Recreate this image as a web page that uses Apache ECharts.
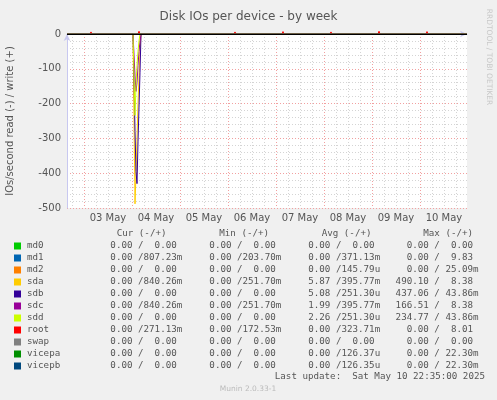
<!DOCTYPE html>
<html>
<head>
<meta charset="utf-8">
<script src="https://cdn.jsdelivr.net/npm/echarts@6/dist/echarts.min.js"></script>
<style>
  html, body { margin: 0; padding: 0; background: #f0f0f0; }
  #main { width: 497px; height: 400px; }
</style>
</head>
<body>
<div id="main"></div>
<script>
// devices, in munin draw order
const names = ['md0', 'md1', 'md2', 'sda', 'sdb', 'sdc', 'sdd', 'root', 'swap', 'vicepa', 'vicepb'];
const colors = ['#00CC00', '#0066B3', '#FF8000', '#FFCC00', '#330099', '#990099', '#CCFF00', '#FF0000', '#808080', '#008F00', '#00487D'];

// read spike on the night of 04 May (30 min steps)
const spikeTimes = ['04 May 00:30', '04 May 01:00', '04 May 01:30', '04 May 02:00', '04 May 02:30',
                    '04 May 03:00', '04 May 03:30', '04 May 04:00', '04 May 04:30'];
const sdaRead = [0, -240, -488, -400, -300, -200, -120, -50, 0];
const sdbRead = [0, -130, -280, -395, -430, -310, -210, -110, 0];
const sdcRead = [0, -60, -120, -165, -140, -90, -50, -20, 0];
const sddRead = [0, -120, -234, -150, -90, -50, -20, 0, 0];

// small nightly writes on root
const rootTimes = ['03 May 03:30', '04 May 03:30', '05 May 03:30', '06 May 03:30',
                   '07 May 03:30', '08 May 03:30', '09 May 03:30', '10 May 03:30'];
const rootWrite = [6, 8, 5, 6, 7, 6, 8, 7];

// legend table: [read, write]
const curCol = [['0.00','0.00'],['0.00','807.23m'],['0.00','0.00'],['0.00','840.26m'],['0.00','0.00'],['0.00','840.26m'],
                ['0.00','0.00'],['0.00','271.13m'],['0.00','0.00'],['0.00','0.00'],['0.00','0.00']];
const minCol = [['0.00','0.00'],['0.00','203.70m'],['0.00','0.00'],['0.00','251.70m'],['0.00','0.00'],['0.00','251.70m'],
                ['0.00','0.00'],['0.00','172.53m'],['0.00','0.00'],['0.00','0.00'],['0.00','0.00']];
const avgCol = [['0.00','0.00'],['0.00','371.13m'],['0.00','145.79u'],['5.87','395.77m'],['5.08','251.30u'],['1.99','395.77m'],
                ['2.26','251.30u'],['0.00','323.71m'],['0.00','0.00'],['0.00','126.37u'],['0.00','126.35u']];
const maxCol = [['0.00','0.00'],['0.00','9.83'],['0.00','25.09m'],['490.10','8.38'],['437.06','43.86m'],['166.51','8.38'],
                ['234.77','43.86m'],['0.00','8.01'],['0.00','0.00'],['0.00','22.30m'],['0.00','22.30m']];
const headers = ['Cur (-/+)', 'Min (-/+)', 'Avg (-/+)', 'Max (-/+)'];

// 30 minute slots from 02 May 15:30 to 10 May 23:30
function two(n) { return (n < 10 ? '0' : '') + n; }
const slots = [];
const t0 = Date.UTC(2025, 4, 2, 15, 30);
for (let i = 0; i <= 400; i++) {
  const d = new Date(t0 + i * 1800000);
  slots.push(two(d.getUTCDate()) + ' May ' + two(d.getUTCHours()) + ':' + two(d.getUTCMinutes()));
}
const first = slots[0], last = slots[slots.length - 1];

function spike(vals) {
  return [[first, 0]].concat(spikeTimes.map((t, i) => [t, vals[i]]), [[last, 0]]);
}
function rootData() {
  let out = [[first, 0]];
  rootTimes.forEach((t, i) => {
    const k = slots.indexOf(t);
    out.push([slots[k - 1], 0], [t, rootWrite[i]], [slots[k + 1], 0]);
  });
  out.push([last, 0]);
  return out;
}
const flat = [[first, 0], [last, 0]];
const seriesData = {
  sda: spike(sdaRead), sdb: spike(sdbRead), sdc: spike(sdcRead), sdd: spike(sddRead), root: rootData()
};

const isMidnight = (idx) => slots[idx].endsWith('00:00');
const isNoon = (idx) => slots[idx].endsWith('12:00');
const isSixHour = (idx) => /(06|12|18):00$/.test(slots[idx]);

function fmt(v) {
  const m = v.match(/^([\d.]+)([a-zA-Z]?)$/);
  return m[1].padStart(6, ' ') + (m[2] || ' ');
}

const mono = 'DejaVu Sans Mono';
const fs = 9.2;
const rowTop = 245.7, rowStep = 12;
const colX = [99.3, 198.3, 297.2, 395.6];
const headX = [116.7, 219.3, 321.7, 423.3];

const graphics = [];
[curCol, minCol, avgCol, maxCol].forEach((col, c) => {
  graphics.push({
    type: 'text', x: headX[c], y: 234,
    style: { text: headers[c], font: fs + 'px "' + mono + '"', fill: '#555', verticalAlign: 'middle' }
  });
  col.forEach((rw, r) => {
    graphics.push({
      type: 'text', x: colX[c], y: rowTop + r * rowStep,
      style: { text: fmt(rw[0]) + '/' + fmt(rw[1]), font: fs + 'px "' + mono + '"', fill: '#555', verticalAlign: 'middle' }
    });
  });
});
graphics.push({
  type: 'text', x: 485, y: 377,
  style: { text: 'Last update:  Sat May 10 22:35:00 2025', font: fs + 'px "' + mono + '"', fill: '#555', align: 'right', verticalAlign: 'middle' }
});
graphics.push({
  type: 'text', x: 248, y: 389,
  style: { text: 'Munin 2.0.33-1', font: '7.5px "DejaVu Sans"', fill: '#bbb', align: 'center', verticalAlign: 'middle' }
});
graphics.push({
  type: 'text', x: 489, y: 57, rotation: -Math.PI / 2,
  style: { text: 'RRDTOOL / TOBI OETIKER', font: '7.5px "DejaVu Sans"', fill: '#c8c8c8', align: 'center', verticalAlign: 'middle' }
});

const chart = echarts.init(document.getElementById('main'));

const option = {
  animation: false,
  backgroundColor: '#f0f0f0',
  textStyle: { fontFamily: 'DejaVu Sans' },
  title: {
    text: 'Disk IOs per device - by week',
    left: 'center',
    top: 6,
    textStyle: { fontSize: 12, fontWeight: 'normal', color: '#555', fontFamily: 'DejaVu Sans' }
  },
  legend: {
    orient: 'vertical',
    left: 14,
    top: 240,
    padding: 0,
    itemGap: 0,
    itemWidth: 7,
    itemHeight: 7,
    icon: 'rect',
    data: names,
    selectedMode: false,
    textStyle: { fontFamily: mono, fontSize: fs, color: '#555', lineHeight: 12, height: 12, padding: [0, 0, 0, 1] }
  },
  grid: {
    left: 67, right: 30, top: 34, bottom: 192,
    outerBoundsMode: 'none',
    show: true, backgroundColor: '#fff', borderWidth: 0
  },
  xAxis: [
    {
      type: 'category',
      data: slots,
      boundaryGap: false,
      axisLine: { lineStyle: { color: '#c8c8f0' }, symbol: ['none', 'arrow'], symbolSize: [5, 7] },
      axisTick: { show: false },
      axisLabel: {
        interval: (idx) => isNoon(idx),
        formatter: (v) => v.slice(0, 6),
        fontSize: 10, color: '#555', margin: 5, fontFamily: 'DejaVu Sans'
      },
      splitLine: {
        show: true,
        interval: (idx) => isMidnight(idx),
        lineStyle: { color: '#f2a0a0', type: [1, 2], width: 1 }
      }
    },
    {
      type: 'category',
      data: slots,
      boundaryGap: false,
      position: 'top',
      axisLine: { show: false },
      axisTick: { show: false },
      axisLabel: { show: false },
      splitLine: {
        show: true,
        interval: (idx) => isSixHour(idx),
        lineStyle: { color: '#d4d4d4', type: [1, 2], width: 1 }
      }
    }
  ],
  yAxis: {
    type: 'value',
    min: -500, max: 0, interval: 100,
    name: 'IOs/second read (-) / write (+)',
    nameLocation: 'middle',
    nameGap: 52,
    nameTextStyle: { fontSize: 10, color: '#555', fontFamily: 'DejaVu Sans' },
    axisLine: { show: true, lineStyle: { color: '#c8c8f0' }, symbol: ['none', 'arrow'], symbolSize: [5, 7] },
    axisTick: { show: false },
    axisLabel: { fontSize: 10, color: '#555', margin: 6, fontFamily: 'DejaVu Sans' },
    splitLine: { lineStyle: { color: '#f2a0a0', type: [1, 2], width: 1 } },
    minorTick: { show: false, splitNumber: 5 },
    minorSplitLine: { show: true, lineStyle: { color: '#d4d4d4', type: [1, 2], width: 1 } }
  },
  graphic: graphics,
  series: names.map((n, i) => {
    const s = {
      name: n,
      type: 'line',
      data: seriesData[n] || flat,
      color: colors[i],
      showSymbol: false,
      symbol: 'none',
      lineStyle: { width: 1 },
      clip: n !== 'root'
    };
    if (i === names.length - 1) {
      // rrdtool's black zero rule
      s.markLine = {
        silent: true, symbol: 'none', label: { show: false },
        lineStyle: { color: '#000', type: 'solid', width: 1 },
        data: [{ yAxis: 0 }]
      };
    }
    return s;
  })
};

chart.setOption(option);
</script>
</body>
</html>
